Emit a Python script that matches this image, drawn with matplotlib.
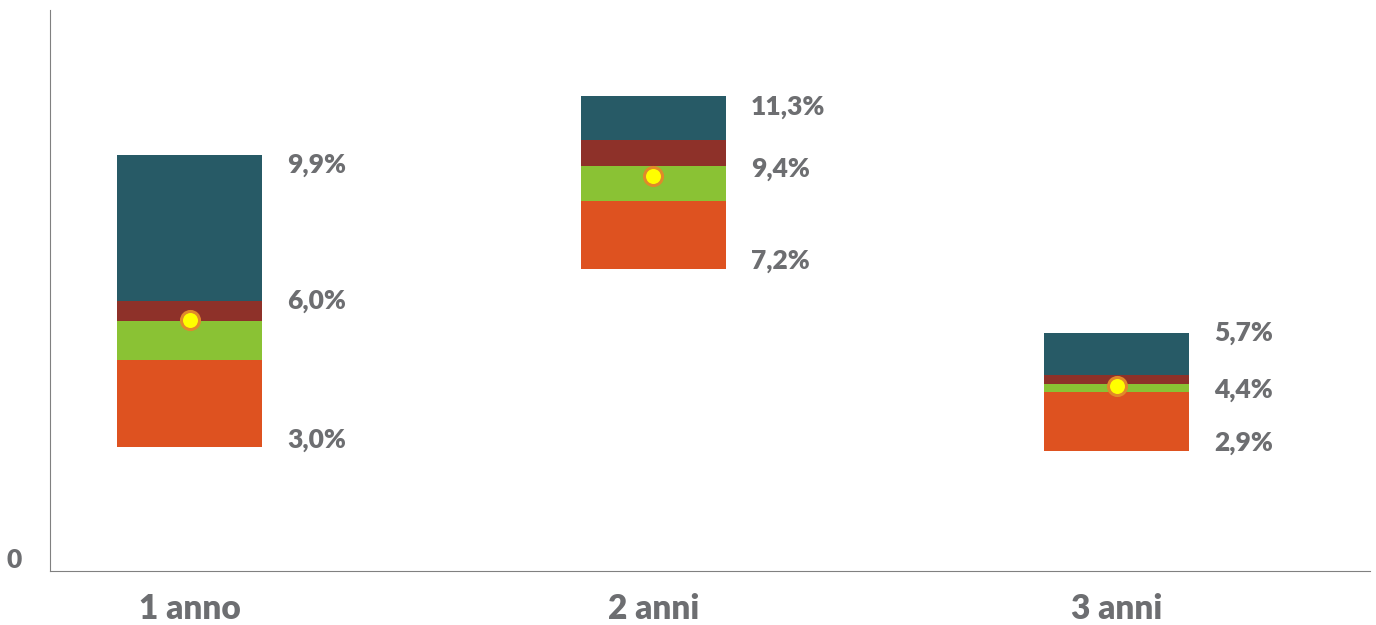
import numpy as np
from matplotlib import pyplot as plt

# Intervalli di rendimento per orizzonte temporale (valori in %)
categorie = ['1 anno', '2 anni', '3 anni']
minimo = [3.0, 7.2, 2.9]
fascia_arancio = [5.06, 8.82, 4.30]   # limite superiore fascia arancio
fascia_verde = [5.98, 9.65, 4.49]     # limite superiore fascia verde
fascia_rossa = [6.45, 10.26, 4.70]    # limite superiore fascia rossa
massimo = [9.9, 11.3, 5.7]
mediana = [6.0, 9.4, 4.45]

etichette_max = ['9,9%', '11,3%', '5,7%']
etichette_med = ['6,0%', '9,4%', '4,4%']
etichette_min = ['3,0%', '7,2%', '2,9%']

c_arancio = '#DE5220'
c_verde = '#8AC234'
c_rosso = '#8E3129'
c_teal = '#275A66'
c_testo = '#6D6E71'

plt.rcParams['font.family'] = ['Lato', 'DejaVu Sans']
peso = 'heavy'

fig = plt.figure(figsize=(13.76, 6.25), dpi=100)
ax = fig.add_axes([0.0363, 0.0864, 0.9593, 0.8976])

x = np.arange(len(categorie))
w = 0.313
minimo = np.array(minimo)
fascia_arancio = np.array(fascia_arancio)
fascia_verde = np.array(fascia_verde)
fascia_rossa = np.array(fascia_rossa)
massimo = np.array(massimo)

ax.bar(x, fascia_arancio - minimo, w, bottom=minimo, color=c_arancio, zorder=2)
ax.bar(x, fascia_verde - fascia_arancio, w, bottom=fascia_arancio, color=c_verde, zorder=2)
ax.bar(x, fascia_rossa - fascia_verde, w, bottom=fascia_verde, color=c_rosso, zorder=2)
ax.bar(x, massimo - fascia_rossa, w, bottom=fascia_rossa, color=c_teal, zorder=2)

ax.plot(x, mediana, 'o', markersize=13, markerfacecolor='#FFFF00',
        markeredgecolor='#E08A2A', markeredgewidth=2.2, linestyle='none', zorder=3)

# etichette a destra delle barre (offset verticali in punti)
off_max = [-7, -8, 0]
off_med = [14, 5, -3]
off_min = [5, 6, 6]
for i in range(len(categorie)):
    for val, txt, dy in [(massimo[i], etichette_max[i], off_max[i]),
                         (mediana[i], etichette_med[i], off_med[i]),
                         (minimo[i], etichette_min[i], off_min[i])]:
        ax.annotate(txt, (x[i] + w / 2, val), xytext=(18, dy), textcoords='offset points',
                    ha='left', va='center', fontsize=19, fontweight=peso, color=c_testo)

ax.set_xlim(-0.302, 2.546)
ax.set_ylim(0.07, 13.33)

ax.set_xticks(x)
ax.set_xticklabels(categorie, fontsize=24, fontweight=peso, color=c_testo)
ax.set_yticks([])
ax.text(-0.027, 0.02, '0', transform=ax.transAxes, ha='center', va='center',
        fontsize=19, fontweight=peso, color=c_testo)
ax.tick_params(axis='both', length=0)
ax.tick_params(axis='x', pad=16)

for s in ['top', 'right']:
    ax.spines[s].set_visible(False)
ax.spines['left'].set_color('#808080')
ax.spines['bottom'].set_color('#808080')

fig.savefig('out.png', dpi=100)
